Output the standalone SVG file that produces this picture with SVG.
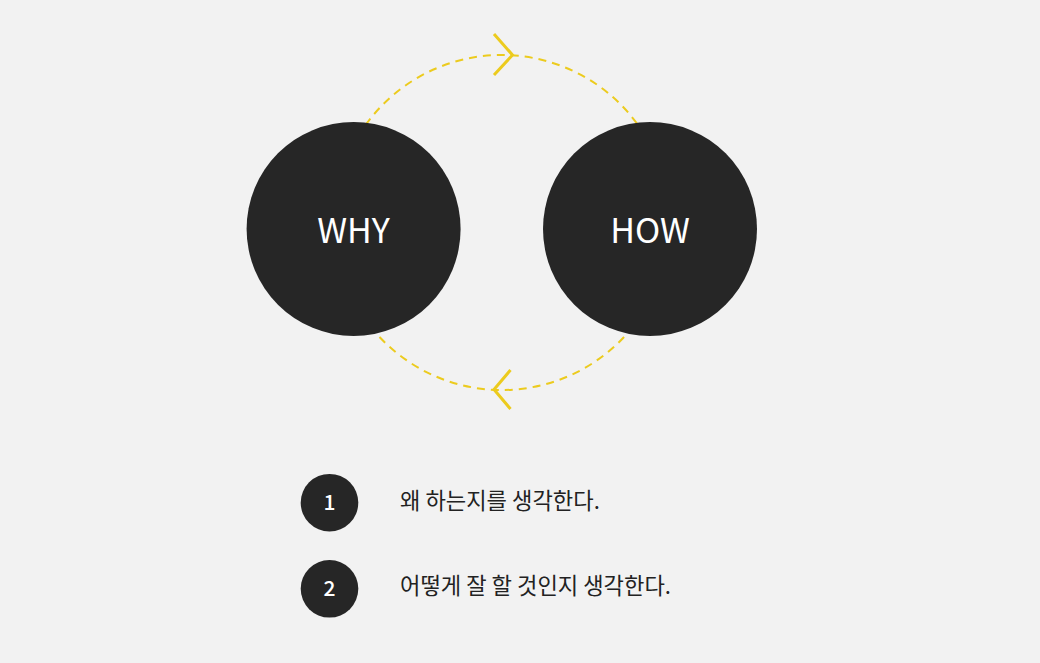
<svg xmlns="http://www.w3.org/2000/svg" width="1040" height="663" viewBox="0 0 1040 663">
<style>
.big{fill:#262626}
.bigt{fill:#ffffff;font-family:"Noto Sans CJK KR","Noto Sans",sans-serif;font-size:34px;text-anchor:middle}
.num{fill:#262626}
.numt{fill:#ffffff;font-family:"Noto Sans CJK KR","Noto Sans",sans-serif;font-size:21px;font-weight:500;text-anchor:middle}
.desc{fill:#222222;font-family:"Noto Sans CJK KR","Noto Sans",sans-serif;font-size:22.2px}
.dash{fill:none;stroke:#eccb1e;stroke-width:2;stroke-dasharray:8 6}
.chev{fill:none;stroke:#eccb1e;stroke-width:3;stroke-linecap:butt;stroke-linejoin:miter}
</style>
<rect width="1040" height="663" fill="#f2f2f2"/>
<g id="connectors">
<circle class="dash" cx="501.8" cy="222.5" r="167.5"/>
<polyline class="chev" points="494,34 512.5,55 494,75"/>
<polyline class="chev" points="510.5,370 494,389.5 510.5,409"/>
</g>
<g id="why">
<circle class="big" cx="353.6" cy="229" r="107"/>
<text class="bigt" x="353.6" y="242.5">WHY</text>
</g>
<g id="how">
<circle class="big" cx="650" cy="229" r="107"/>
<text class="bigt" x="650" y="242.5">HOW</text>
</g>
<g id="item1">
<circle class="num" cx="329.5" cy="502.7" r="28.8"/>
<text class="numt" x="329.5" y="510">1</text>
<text class="desc" x="400" y="509">왜 하는지를 생각한다.</text>
</g>
<g id="item2">
<circle class="num" cx="329.5" cy="588.8" r="28.8"/>
<text class="numt" x="329.5" y="596">2</text>
<text class="desc" x="400" y="594">어떻게 잘 할 것인지 생각한다.</text>
</g>
</svg>
